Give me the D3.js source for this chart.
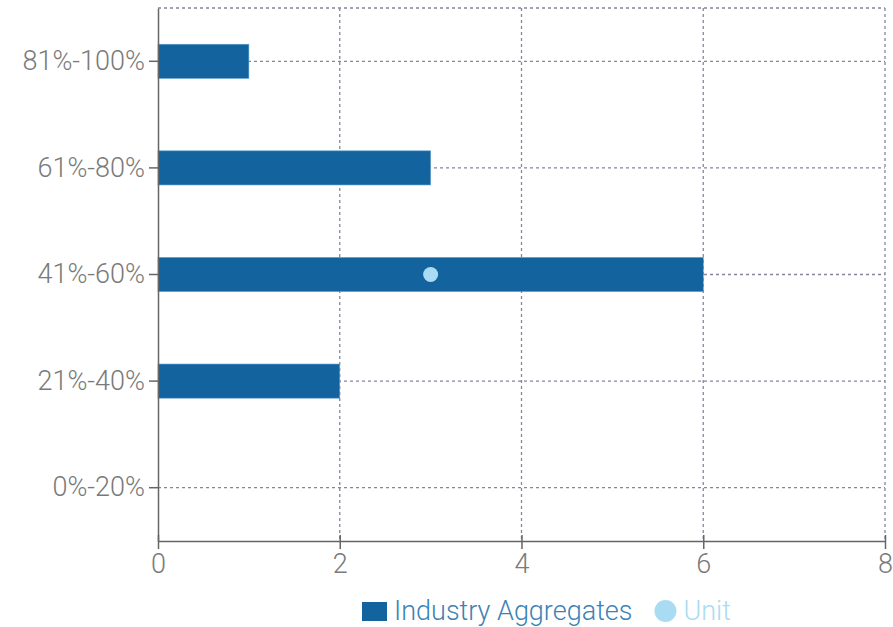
<!DOCTYPE html>
<html>
<head>
<meta charset="utf-8">
<script src="https://cdn.jsdelivr.net/npm/d3@7"></script>
<style>
  html, body { margin: 0; padding: 0; background: #fff; }
  svg { display: block; font-family: Roboto, "Open Sans", sans-serif; }
</style>
</head>
<body>
<svg id="chart" width="893" height="627"></svg>
<script>
// Score bands shown on the vertical axis (top to bottom)
const categories = ["81%-100%", "61%-80%", "41%-60%", "21%-40%", "0%-20%"];
// Industry aggregate counts per band
const industryValues = [1, 3, 6, 2, 0];
// The unit's own position (one marker)
const unitBand = ["41%-60%"];
const unitValue = [3];
// Horizontal axis ticks
const xTicks = [0, 2, 4, 6, 8];
const seriesNames = ["Industry Aggregates", "Unit"];

const barColor = "#12639e";
const unitColor = "#a9dcf2";
const gridColor = "#8585a0";
const axisColor = "#666";
const textColor = "#7a7a7a";

const margin = { top: 8, right: 8, bottom: 86, left: 158 };
const width = 893, height = 627;
const innerW = width - margin.left - margin.right;
const innerH = height - margin.top - margin.bottom;

const svg = d3.select("#chart");
const g = svg.append("g").attr("transform", `translate(${margin.left},${margin.top})`);

const x = d3.scaleLinear().domain([0, 8]).range([0, innerW]);
const y = d3.scaleBand().domain(categories).range([0, innerH]).padding(0);
const barH = y.bandwidth() * 0.32;

// dotted grid: verticals at ticks, horizontals at band centres plus top edge
const grid = g.append("g").attr("stroke", gridColor).attr("stroke-width", 1.3)
  .attr("stroke-dasharray", "3,3").attr("fill", "none");
xTicks.filter(t => t > 0).forEach(t => {
  grid.append("line").attr("x1", x(t)).attr("x2", x(t)).attr("y1", 0).attr("y2", innerH);
});
categories.forEach(c => {
  const cy = y(c) + y.bandwidth() / 2;
  grid.append("line").attr("x1", 0).attr("x2", innerW).attr("y1", cy).attr("y2", cy);
});
grid.append("line").attr("x1", 0).attr("x2", innerW).attr("y1", 0).attr("y2", 0);

// bars
g.selectAll("rect.bar").data(categories.map((c, i) => ({ c, v: industryValues[i] })).filter(d => d.v > 0))
  .join("rect").attr("class", "bar")
  .attr("x", x(0))
  .attr("y", d => y(d.c) + y.bandwidth() / 2 - barH / 2)
  .attr("width", d => x(d.v) - x(0))
  .attr("height", barH)
  .attr("fill", barColor)
  .attr("stroke", "#5a9ccc").attr("stroke-width", 0.6);

// unit marker
g.selectAll("circle.unit").data(unitBand.map((b, i) => ({ b, v: unitValue[i] })))
  .join("circle").attr("class", "unit")
  .attr("cx", d => x(d.v))
  .attr("cy", d => y(d.b) + y.bandwidth() / 2)
  .attr("r", 7.5)
  .attr("fill", unitColor);

// axes
const xAxis = g.append("g").attr("transform", `translate(0,${innerH})`)
  .call(d3.axisBottom(x).tickValues(xTicks).tickSize(8).tickSizeOuter(0).tickPadding(5));
const yAxis = g.append("g")
  .call(d3.axisLeft(y).tickSize(9).tickSizeOuter(0).tickPadding(4));
[xAxis, yAxis].forEach(a => {
  a.select(".domain").attr("stroke", axisColor).attr("stroke-width", 1.5);
  a.selectAll(".tick line").attr("stroke", axisColor).attr("stroke-width", 1.5);
  a.selectAll(".tick text").attr("fill", textColor)
    .style("font-size", "27px").style("font-weight", 300).style("font-family", "Roboto, sans-serif");
});
xAxis.selectAll(".tick line").attr("y1", -6);

// legend
const legend = svg.append("g").attr("transform", "translate(362,611)");
legend.append("rect").attr("x", 0).attr("y", -9).attr("width", 25).attr("height", 19).attr("fill", barColor);
const t1 = legend.append("text").attr("x", 32).attr("y", 0).attr("dy", "0.35em")
  .attr("fill", "#3b82b5").style("font-size", "27px").style("font-weight", 300)
  .text(seriesNames[0]);
const w1 = t1.node().getComputedTextLength();
legend.append("circle").attr("cx", 32 + w1 + 33).attr("cy", 0).attr("r", 11).attr("fill", unitColor);
legend.append("text").attr("x", 32 + w1 + 51).attr("y", 0).attr("dy", "0.35em")
  .attr("fill", unitColor).style("font-size", "27px").style("font-weight", 300)
  .text(seriesNames[1]);
</script>
</body>
</html>
